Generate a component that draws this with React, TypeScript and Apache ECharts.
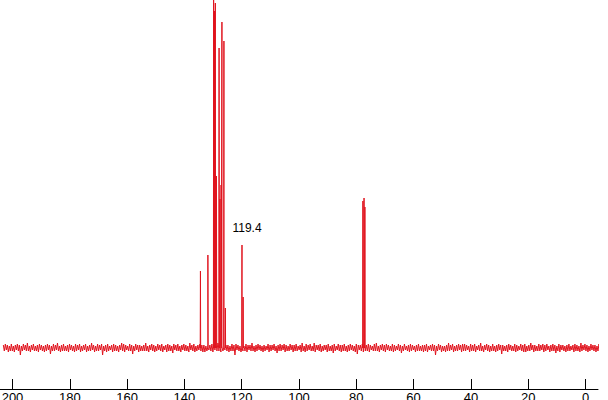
import React, { useEffect, useRef } from "react";
import * as echarts from "echarts";

// Tick labels on the chemical-shift axis (ppm)
const tickValues = [0, 20, 40, 60, 80, 100, 120, 140, 160, 180, 200];

// Peaks: position (ppm) and height (intensity units above baseline)
const peakPpm = [134.4, 131.8, 129.8, 129.5, 129.2, 128.8, 127.9, 127.6, 127.2, 126.9, 126.2, 125.7, 119.9, 119.5, 77.7, 77.3, 77.0];
const peakHeight = [77, 93, 348, 337, 345, 172, 300, 149, 163, 326, 307, 40, 103, 51, 147, 150, 141];

// Baseline noise samples, read as a band around zero
const noiseStartPpm = 203.2;
const noiseStepPpm = 0.35;
const noise = [
  3, -3, 4, -2, 3, -4, 2, -3, 4, -3, 2, -4, 3, -2, 4, -3, 3, -7, 2, -3,
  4, -2, 3, -3, 5, -3, 2, -4, 3, -2, 4, -3, 2, -3, 3, -4, 4, -2, 3, -3,
  2, -4, 3, -3, 4, -2, 3, -6, 2, -3, 4, -3, 3, -2, 5, -3, 2, -4, 3, -3,
  4, -3, 2, -3, 3, -4, 4, -2, 3, -3, 2, -4, 4, -3, 3, -2, 4, -4, 2, -3,
  3, -2, 4, -4, 2, -3, 3, -3, 5, -2, 3, -4, 2, -3, 4, -3, 3, -2, 4, -7,
  2, -3, 3, -4, 4, -3, 2, -2, 3, -4, 4, -3, 3, -3, 2, -4, 3, -2, 5, -3,
  4, -4, 3, -2, 2, -3, 4, -3, 3, -6, 2, -3, 4, -2, 3, -4, 3, -3, 2, -3,
  3, -3, 5, -3, 2, -4, 3, -2, 4, -3, 3, -4, 2, -3, 4, -2, 3, -3, 4, -4,
  2, -2, 3, -4, 4, -3, 3, -3, 2, -5, 4, -2, 3, -3, 4, -3, 2, -4, 3, -2,
  4, -3, 3, -3, 2, -4, 5, -2, 3, -3, 4, -4, 2, -3, 3, -2, 4, -3, 3, -4,
  3, -4, 2, -3, 4, -2, 3, -3, 4, -4, 3, -2, 2, -3, 5, -3, 3, -4, 2, -3,
  4, -2, 3, -3, 3, -4, 2, -3, 4, -3, 3, -7, 4, -2, 3, -3, 2, -4, 4, -3,
  2, -3, 4, -4, 3, -2, 3, -3, 5, -3, 2, -4, 3, -3, 4, -2, 3, -3, 2, -4,
  3, -3, 2, -2, 4, -4, 3, -3, 3, -2, 4, -3, 2, -5, 3, -3, 4, -3, 3, -2,
  4, -4, 3, -3, 2, -3, 4, -2, 3, -4, 3, -3, 4, -3, 2, -2, 3, -4, 5, -3,
  2, -4, 4, -3, 3, -2, 4, -3, 2, -3, 5, -4, 3, -2, 3, -3, 4, -4, 2, -3,
  3, -2, 3, -4, 4, -3, 2, -3, 3, -5, 4, -3, 2, -2, 4, -3, 3, -4, 3, -3,
  4, -3, 2, -4, 3, -3, 4, -2, 3, -3, 2, -4, 4, -6, 3, -2, 3, -3, 4, -4,
  2, -3, 3, -3, 4, -4, 3, -2, 2, -3, 4, -3, 5, -3, 2, -4, 3, -2, 4, -3,
  3, -4, 4, -2, 3, -3, 2, -3, 4, -4, 3, -3, 2, -2, 4, -3, 3, -5, 2, -3,
  4, -2, 2, -3, 3, -4, 4, -3, 3, -2, 2, -4, 3, -3, 4, -3, 2, -3, 3, -4,
  3, -3, 4, -4, 2, -2, 3, -3, 4, -3, 3, -7, 2, -3, 4, -2, 3, -4, 2, -3,
  2, -4, 3, -3, 5, -3, 3, -2, 4, -4, 2, -3, 3, -3, 4, -2, 3, -4, 4, -3,
  4, -3, 3, -2, 2, -4, 4, -3, 3, -3, 4, -4, 2, -2, 3, -3, 5, -3, 2, -4,
  3, -2, 4, -3, 3, -4, 2, -3, 4, -3, 2, -4, 3, -3, 4, -2, 3, -6, 3, -3,
  2, -3, 3, -4, 4, -2, 3, -3, 2, -3, 4, -4, 3, -3, 2, -2, 4, -3, 3, -4,
  4, -4, 2, -3, 3, -3, 5, -2, 3, -4, 3, -3, 2, -3, 4, -3, 3, -2, 4, -4,
  3, -3, 4, -2, 2, -4, 3, -3, 4, -3, 3, -5, 2, -3, 4, -4, 3, -2, 3, -3,
  2, -4, 3, -3, 4, -3, 2, -2, 3, -4, 4, -3, 3, -3, 2, -4, 5, -3, 3, -2,
  4, -3, 3, -4, 2, -3, 4, -2, 3, -3, 3, -4, 2, -3, 4, -3, 3, -2, 4, -3,
];

// Annotation text and where its centre sits (ppm, intensity)
const annotationText = ["119.4"];
const annotationPpm = [118.15];
const annotationValue = [120.5];

function buildSpectrum(): [number, number][] {
  const pts: [number, number][] = [];
  noise.forEach((v, i) => pts.push([noiseStartPpm - noiseStepPpm * i, v]));
  peakPpm.forEach((p, i) => {
    pts.push([p + 0.08, 0]);
    pts.push([p, peakHeight[i]]);
    pts.push([p - 0.08, 0]);
  });
  pts.sort((a, b) => b[0] - a[0]);
  return pts;
}

export default function App() {
  const ref = useRef<HTMLDivElement>(null);
  useEffect(() => {
    if (!ref.current) return;
    const chart = echarts.init(ref.current, undefined, { renderer: "svg" });
    chart.setOption({
      animation: false,
      backgroundColor: "#ffffff",
      grid: { left: 0, right: 10, top: 0, bottom: 11, containLabel: false, outerBoundsMode: "none" },
      xAxis: {
        type: "value",
        inverse: true,
        min: -4.36,
        max: 204.36,
        axisLine: { show: true, onZero: false, lineStyle: { color: "#000", width: 1 } },
        axisTick: { show: true, inside: true, length: 10, lineStyle: { color: "#000" }, customValues: tickValues },
        axisLabel: {
          show: true,
          customValues: tickValues,
          margin: 2,
          color: "#000",
          fontSize: 13,
          fontFamily: "Arial, 'Liberation Sans', sans-serif",
        },
        splitLine: { show: false },
      },
      yAxis: {
        type: "value",
        min: -41,
        max: 348,
        show: false,
        splitLine: { show: false },
      },
      series: [
        {
          type: "line",
          data: buildSpectrum(),
          symbol: "none",
          showSymbol: false,
          lineStyle: { color: "#e0141e", width: 1 },
          itemStyle: { color: "#e0141e" },
          clip: true,
          markPoint: {
            symbol: "circle",
            symbolSize: 0,
            label: {
              show: true,
              position: "inside",
              color: "#000",
              fontSize: 12,
              fontFamily: "Arial, 'Liberation Sans', sans-serif",
              formatter: (p: any) => p.name,
            },
            data: annotationText.map((t, i) => ({
              name: t,
              coord: [annotationPpm[i], annotationValue[i]],
            })),
          },
        },
      ],
    });
    return () => chart.dispose();
  }, []);
  return (
    <div
      ref={ref}
      style={{ position: "fixed", left: 0, top: 0, width: 608, height: 400, background: "#fff" }}
    />
  );
}
